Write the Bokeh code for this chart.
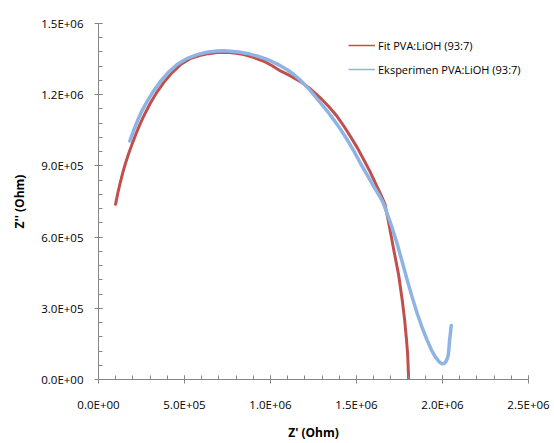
from bokeh.plotting import figure
from bokeh.models import (Range1d, SingleIntervalTicker, CustomJSTickFormatter,
                          Legend, LegendItem, ColumnDataSource)
from bokeh.embed import file_html
from bokeh.resources import INLINE

# Fit PVA:LiOH (93:7)
fit_x = [99000, 113000, 128000, 142000, 157000, 176000, 196000, 219000, 244000,
         272000, 302000, 340000, 380000, 427000, 477000, 533000, 593000,
         640000, 690000, 725000, 760000, 800000, 845000, 900000, 961000,
         1010000, 1058000, 1116000, 1174000, 1233000, 1291000, 1340000,
         1388000, 1427000, 1465000, 1505000, 1543000, 1578000, 1610000,
         1640000, 1665000, 1690000, 1717000, 1745000, 1766000, 1780000,
         1791000, 1797000, 1800000, 1803000]
fit_y = [738000, 788000, 834000, 874000, 911000, 953000, 993000, 1037000,
         1080000, 1123000, 1165000, 1211000, 1252000, 1292000, 1327000,
         1352000, 1366000, 1373000, 1378000, 1379000, 1378000, 1375000,
         1369000, 1357000, 1341000, 1322000, 1300000, 1279000, 1255000,
         1224000, 1186000, 1149000, 1108000, 1067000, 1024000, 976000,
         925000, 877000, 827000, 781000, 740000, 650000, 545000, 440000,
         334000, 250000, 165000, 110000, 60000, 0]

# Eksperimen PVA:LiOH (93:7)
exp_x = [182000, 203000, 225000, 252000, 283000, 320000, 360000, 406000,
         457000, 513000, 574000, 630000, 690000, 728000, 767000, 815000,
         864000, 922000, 981000, 1040000, 1097000, 1136000, 1174000, 1233000,
         1291000, 1330000, 1368000, 1408000, 1446000, 1485000, 1523000,
         1562000, 1601000, 1630000, 1655000, 1700000, 1736000, 1766000,
         1795000, 1824000, 1853000, 1882000, 1911000, 1936000, 1959000,
         1980000, 1998000, 2008000, 2017000, 2026000, 2033000, 2037000,
         2041000, 2046000, 2051000]
exp_y = [1005000, 1047000, 1087000, 1131000, 1172000, 1216000, 1256000,
         1294000, 1327000, 1352000, 1369000, 1379000, 1384000, 1385000,
         1383000, 1380000, 1374000, 1363000, 1349000, 1329000, 1305000,
         1285000, 1261000, 1216000, 1165000, 1131000, 1094000, 1053000,
         1010000, 962000, 911000, 862000, 812000, 778000, 745000, 655000,
         573000, 495000, 418000, 346000, 278000, 218000, 165000, 124000,
         94000, 75000, 66000, 67000, 73000, 85000, 101000, 125000, 165000,
         195000, 228000]

series_names = ["Fit PVA:LiOH (93:7)", "Eksperimen PVA:LiOH (93:7)"]
x_label = "Z' (Ohm)"
y_label = "Z'' (Ohm)"

RED = "#C0504D"
BLUE = "#8EB4E3"
AXIS = "#868686"
FONT = "Open Sans"
NAN = float("nan")

p = figure(frame_width=430, frame_height=356, output_backend="svg",
           toolbar_location=None,
           x_range=Range1d(0, 2500000), y_range=Range1d(0, 1500000),
           min_border_left=98, min_border_right=26, min_border_top=23,
           min_border_bottom=64)
p.outline_line_color = None
p.grid.visible = False

fit_src = ColumnDataSource(dict(x=fit_x, y=fit_y))
exp_src = ColumnDataSource(dict(x=exp_x, y=exp_y))
p.line("x", "y", source=fit_src, line_color=RED, line_width=3,
       line_cap="round", line_join="round")
p.line("x", "y", source=exp_src, line_color=BLUE, line_width=3.5,
       line_cap="round", line_join="round")

# thin legend samples (renderers that draw nothing in the plot)
leg_fit = p.line(x=[NAN], y=[NAN], line_color=RED, line_width=1.5)
leg_exp = p.line(x=[NAN], y=[NAN], line_color=BLUE, line_width=1.5)

fmt = CustomJSTickFormatter(code="""
const s = tick.toExponential(1);
const parts = s.split('e');
const sign = parts[1][0];
const d = parts[1].slice(1).padStart(2, '0');
return parts[0] + 'E' + sign + d;
""")

p.xaxis.ticker = SingleIntervalTicker(interval=500000, num_minor_ticks=5)
p.yaxis.ticker = SingleIntervalTicker(interval=300000, num_minor_ticks=5)
for ax in (p.xaxis, p.yaxis):
    ax.formatter = fmt
    ax.axis_line_color = AXIS
    ax.major_tick_line_color = AXIS
    ax.minor_tick_line_color = AXIS
    ax.major_tick_in = 4
    ax.major_tick_out = 4
    ax.minor_tick_in = 4
    ax.minor_tick_out = 0
    ax.major_label_text_font = FONT
    ax.major_label_text_font_size = "11.5px"
    ax.major_label_text_color = "#000000"
    ax.axis_label_text_font = FONT
    ax.axis_label_text_font_size = "12px"
    ax.axis_label_text_font_style = "bold"
    ax.axis_label_text_color = "#000000"

p.xaxis.axis_label = x_label
p.yaxis.axis_label = y_label
p.xaxis.major_label_standoff = 13
p.yaxis.major_label_standoff = 11
p.xaxis.axis_label_standoff = 9
p.yaxis.axis_label_standoff = 10

legend = Legend(items=[LegendItem(label=series_names[0], renderers=[leg_fit]),
                       LegendItem(label=series_names[1], renderers=[leg_exp])],
                location=(250, 300), glyph_width=27, glyph_height=20,
                label_standoff=3, padding=0, spacing=4, margin=0,
                border_line_color=None, background_fill_alpha=0,
                label_text_font=FONT, label_text_font_size="11px",
                label_text_color="#000000")
p.add_layout(legend)

open("out.html", "w").write(file_html(p, INLINE))
